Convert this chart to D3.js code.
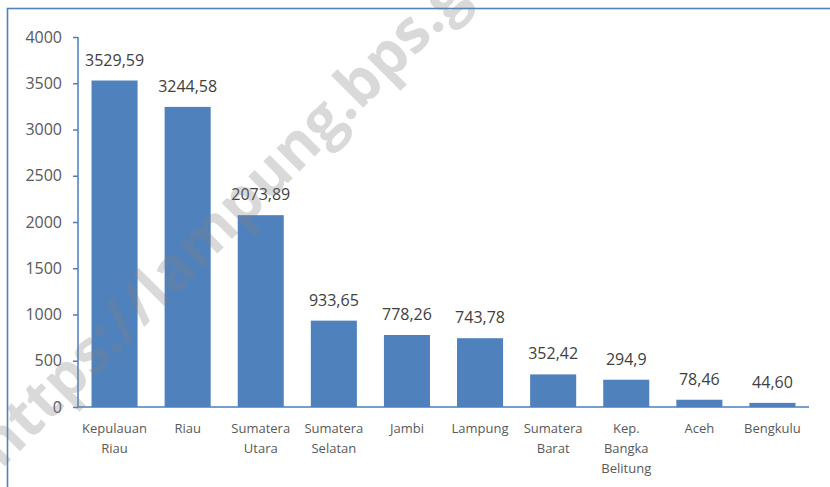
<!DOCTYPE html>
<html>
<head>
<meta charset="utf-8">
<script src="https://cdn.jsdelivr.net/npm/d3@7"></script>
<style>
  body { margin: 0; background: #fff; }
  svg { display: block; font-family: "Open Sans", sans-serif; }
</style>
</head>
<body>
<div id="chart"></div>
<script>
// data
const categories = ['Kepulauan Riau', 'Riau', 'Sumatera Utara', 'Sumatera Selatan', 'Jambi',
  'Lampung', 'Sumatera Barat', 'Kep. Bangka Belitung', 'Aceh', 'Bengkulu']
const values = [3529.59, 3244.58, 2073.89, 933.65, 778.26, 743.78, 352.42, 294.9, 78.46, 44.60]
const valueLabels = ['3529,59', '3244,58', '2073,89', '933,65', '778,26', '743,78', '352,42', '294,9', '78,46', '44,60']
const yTicks = [0, 500, 1000, 1500, 2000, 2500, 3000, 3500, 4000]

// dimensions
const width = 830
const height = 487
const plot = { left: 78, right: 809, top: 37, bottom: 407 }

const svg = d3.select('#chart')
  .append('svg')
  .attr('width', width)
  .attr('height', height)

// chart border
svg.append('rect')
  .attr('x', 7.5)
  .attr('y', 8.5)
  .attr('width', width + 20)
  .attr('height', height + 20)
  .attr('fill', 'none')
  .attr('stroke', '#4f81bd')
  .attr('stroke-width', 1.6)

// scales
const xScale = d3.scaleBand()
  .domain(categories)
  .range([plot.left, plot.right])
  .paddingInner(0.37)
  .paddingOuter(0.185)

const yScale = d3.scaleLinear()
  .domain([0, 4000])
  .range([plot.bottom, plot.top])

// bars
svg.append('g')
  .selectAll('rect')
  .data(values)
  .join('rect')
  .attr('x', (d, i) => xScale(categories[i]))
  .attr('y', d => yScale(d))
  .attr('width', xScale.bandwidth())
  .attr('height', d => yScale(0) - yScale(d))
  .attr('fill', '#4f81bd')

// value labels
svg.append('g')
  .selectAll('text')
  .data(values)
  .join('text')
  .attr('x', (d, i) => xScale(categories[i]) + xScale.bandwidth() / 2)
  .attr('y', d => yScale(d) - 15)
  .attr('text-anchor', 'middle')
  .attr('font-size', 16)
  .attr('fill', '#404040')
  .text((d, i) => valueLabels[i])

// y axis
const yAxis = d3.axisLeft(yScale)
  .tickValues(yTicks)
  .tickSize(5)
  .tickPadding(11)
  .tickFormat(d3.format('d'))

const yAxisGroup = svg.append('g')
  .attr('transform', `translate(${plot.left}, 0)`)
  .call(yAxis)

yAxisGroup.select('.domain').remove()
yAxisGroup.append('line')
  .attr('x1', 0).attr('x2', 0)
  .attr('y1', plot.top).attr('y2', plot.bottom)
  .attr('stroke', '#4a7ebb')
  .attr('stroke-width', 1.5)
yAxisGroup.selectAll('.tick line')
  .attr('stroke', '#4a7ebb')
  .attr('stroke-width', 1.5)
yAxisGroup.selectAll('.tick text')
  .attr('font-family', '"Open Sans", sans-serif')
  .attr('font-size', 16)
  .attr('fill', '#595959')

// x axis line
svg.append('line')
  .attr('x1', plot.left).attr('x2', plot.right)
  .attr('y1', yScale(0)).attr('y2', yScale(0))
  .attr('stroke', '#4a7ebb')
  .attr('stroke-width', 1.5)

// category labels
const catLabels = svg.append('g')
  .selectAll('text')
  .data(categories)
  .join('text')
  .attr('text-anchor', 'middle')
  .attr('font-size', 13)
  .attr('fill', '#595959')

catLabels.selectAll('tspan')
  .data(d => d.split(' ').map(w => ({ w, key: d })))
  .join('tspan')
  .attr('x', d => xScale(d.key) + xScale.bandwidth() / 2)
  .attr('y', (d, i) => yScale(0) + 26 + i * 20)
  .text(d => d.w)

// watermark, anchored on the dot after "lampung"
const wm = svg.append('text')
  .attr('font-family', '"Open Sans", sans-serif')
  .attr('font-weight', 'bold')
  .attr('font-size', 60)
  .attr('fill', '#808080')
  .attr('fill-opacity', 0.3)
  .text('https://lampung.bps.go.id')

const dotOffset = wm.node().getStartPositionOfChar(15).x
wm.attr('transform', `translate(348, 123) rotate(-45) translate(${-dotOffset}, 0)`)
</script>
</body>
</html>
